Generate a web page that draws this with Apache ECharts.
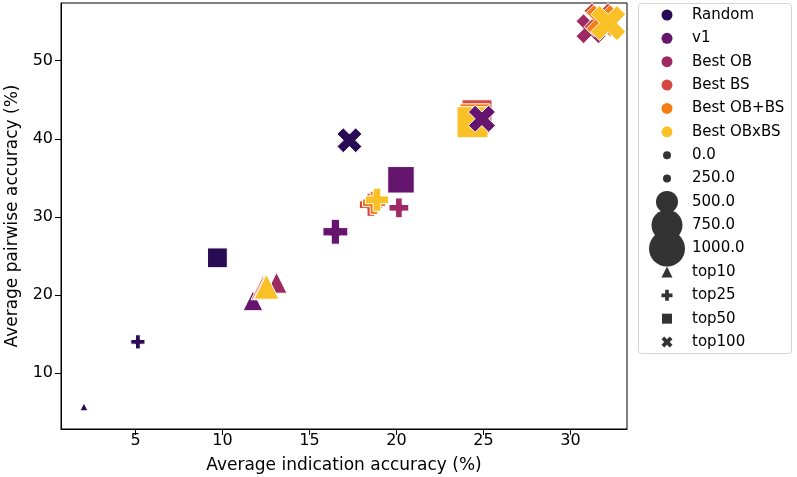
<!DOCTYPE html>
<html>
<head>
<meta charset="utf-8">
<script src="https://cdn.jsdelivr.net/npm/echarts@6/dist/echarts.min.js"></script>
<style>html,body{margin:0;padding:0;background:#fff}#c{width:797px;height:477px}</style>
</head>
<body>
<div id="c"></div>
<script>
// ---- data ----
const methods = ['Random', 'v1', 'Best OB', 'Best BS', 'Best OB+BS', 'Best OBxBS'];
const topks = ['top10', 'top25', 'top50', 'top100'];
// per top-k: values per method (Random, v1, Best OB, Best BS, Best OB+BS, Best OBxBS)
const top10Indication  = [2.04, 11.75, 13.11, 12.33, 12.44, 12.53];
const top10Pairwise    = [5.64, 19.23, 21.54, 20.90, 20.96, 21.03];
const top10Size        = [0, 460, 480, 555, 555, 580];
const top25Indication  = [5.14, 16.49, 20.14, 18.53, 18.71, 18.88];
const top25Pairwise    = [13.97, 28.08, 31.15, 31.54, 31.79, 32.18];
const top25Size        = [360, 580, 460, 530, 530, 530];
const top50Indication  = [9.71, 20.26, 24.51, 24.63, 24.51, 24.37];
const top50Pairwise    = [24.74, 34.74, 42.82, 43.08, 42.56, 42.12];
const top50Size        = [460, 625, 670, 720, 720, 750];
const top100Indication = [17.30, 24.91, 31.18, 31.70, 31.82, 32.17];
const top100Pairwise   = [39.81, 42.56, 54.10, 55.38, 55.13, 54.83];
const top100Size       = [580, 640, 720, 800, 800, 950];
const sizeLegendValues = [0, 250, 500, 750, 1000];
const sizeLegendLabels = ['0.0', '250.0', '500.0', '750.0', '1000.0'];
const xTicks = [5, 10, 15, 20, 25, 30];
const yTicks = [10, 20, 30, 40, 50];

// ---- styles ----
const hueColors = ['#280b54', '#65156e', '#9f2a63', '#d44842', '#f57d15', '#fac127'];
const PLUS = 'path://M1,0H2V1H3V2H2V3H1V2H0V1H1Z';
const XMARK = 'path://M0,2.5L2.5,0L5,2.5L7.5,0L10,2.5L7.5,5L10,7.5L7.5,10L5,7.5L2.5,10L0,7.5L2.5,5Z';
const shapeSymbols = ['triangle', PLUS, 'rect', XMARK];
const sizeStops = [0, 250, 500, 750, 1000];
const sizePx = [8, 8, 22, 31, 36];
function sizeScale(v) {
  if (v <= sizeStops[0]) return sizePx[0];
  for (let i = 1; i < sizeStops.length; i++) {
    if (v <= sizeStops[i]) {
      const t = (v - sizeStops[i - 1]) / (sizeStops[i] - sizeStops[i - 1]);
      return sizePx[i - 1] + t * (sizePx[i] - sizePx[i - 1]);
    }
  }
  const n = sizeStops.length - 1;
  return sizePx[n] + (v - sizeStops[n]) / (sizeStops[n] - sizeStops[n - 1]) * (sizePx[n] - sizePx[n - 1]);
}
const FONT = 'DejaVu Sans';
const FS_AXIS = 17;
const FS_TICK = 16;
const FS_LEG = 15;

const groups = [
  [top10Indication, top10Pairwise, top10Size],
  [top25Indication, top25Pairwise, top25Size],
  [top50Indication, top50Pairwise, top50Size],
  [top100Indication, top100Pairwise, top100Size]
];

const series = [];
groups.forEach((g, k) => {
  series.push({
    name: topks[k],
    type: 'scatter',
    symbol: shapeSymbols[k],
    itemStyle: { borderColor: '#fff', borderWidth: 1, opacity: 1 },
    emphasis: { disabled: true },
    data: methods.map((m, i) => ({
      value: [g[0][i], g[1][i]],
      symbolSize: sizeScale(g[2][i]),
      itemStyle: { color: hueColors[i] }
    }))
  });
});

// ---- legend drawn as graphic (matplotlib-like) ----
const rowY0 = 15, rowStep = 23.36, ICX = 667, TX = 692;
const gfx = [{
  type: 'rect', z: 10, shape: { x: 638.5, y: 3.5, width: 153, height: 350, r: 3 },
  style: { fill: '#fff', stroke: '#d4d4d4', lineWidth: 1 }
}];
let row = 0;
function label(text, y) {
  gfx.push({ type: 'text', z: 12, x: TX, y: y, style: { text: text, fontFamily: FONT, fontSize: FS_LEG, fill: '#000', verticalAlign: 'middle', align: 'left' } });
}
function circle(y, d, color) {
  gfx.push({ type: 'circle', z: 11, shape: { cx: ICX, cy: y, r: d / 2 }, style: { fill: color } });
}
function poly(points, color) {
  gfx.push({ type: 'polygon', z: 11, shape: { points: points }, style: { fill: color } });
}
methods.forEach((m, i) => { const y = rowY0 + rowStep * row++; circle(y, 11, hueColors[i]); label(m, y); });
sizeLegendLabels.forEach((l, i) => { const y = rowY0 + rowStep * row++; circle(y, sizeScale(sizeLegendValues[i]), '#333'); label(l, y); });
topks.forEach((t, k) => {
  const y = rowY0 + rowStep * row++;
  const s = 11, h = s / 2;
  let pts;
  if (k === 0) pts = [[ICX, y - h], [ICX + h, y + h], [ICX - h, y + h]];
  else if (k === 1) { const a = s / 6; pts = [[-a, -3 * a], [a, -3 * a], [a, -a], [3 * a, -a], [3 * a, a], [a, a], [a, 3 * a], [-a, 3 * a], [-a, a], [-3 * a, a], [-3 * a, -a], [-a, -a]].map(p => [ICX + p[0], y + p[1]]); }
  else if (k === 2) pts = [[ICX - 5, y - 5], [ICX + 5, y - 5], [ICX + 5, y + 5], [ICX - 5, y + 5]];
  else { const q = s / 10; pts = [[0, 2.5], [2.5, 0], [5, 2.5], [7.5, 0], [10, 2.5], [7.5, 5], [10, 7.5], [7.5, 10], [5, 7.5], [2.5, 10], [0, 7.5], [2.5, 5]].map(p => [ICX + (p[0] - 5) * q, y + (p[1] - 5) * q]); }
  poly(pts, '#333');
  label(t, y);
});

const chart = echarts.init(document.getElementById('c'), null, { renderer: 'canvas' });
chart.setOption({
  animation: false,
  backgroundColor: '#fff',
  grid: { left: 61, top: 3, right: 170, bottom: 48, outerBoundsMode: 'none', containLabel: false, show: true, borderColor: '#000', borderWidth: 1, backgroundColor: 'transparent' },
  xAxis: {
    type: 'value', min: 0.72, max: 33.25,
    name: 'Average indication accuracy (%)', nameLocation: 'middle', nameGap: 28,
    nameTextStyle: { fontFamily: FONT, fontSize: FS_AXIS, color: '#000' },
    splitLine: { show: false },
    axisLine: { show: true, onZero: false, lineStyle: { color: '#000', width: 1 } },
    axisTick: { show: true, length: 6, lineStyle: { color: '#000' }, customValues: xTicks },
    axisLabel: { fontFamily: FONT, fontSize: FS_TICK, color: '#000', margin: 4, customValues: xTicks }
  },
  yAxis: {
    type: 'value', min: 2.8, max: 57.4,
    name: 'Average pairwise accuracy (%)', nameLocation: 'middle', nameGap: 40,
    nameTextStyle: { fontFamily: FONT, fontSize: FS_AXIS, color: '#000' },
    splitLine: { show: false },
    axisLine: { show: true, onZero: false, lineStyle: { color: '#000', width: 1 } },
    axisTick: { show: true, length: 6, lineStyle: { color: '#000' }, customValues: yTicks },
    axisLabel: { fontFamily: FONT, fontSize: FS_TICK, color: '#000', margin: 8, customValues: yTicks }
  },
  graphic: gfx,
  series: series
});
</script>
</body>
</html>
